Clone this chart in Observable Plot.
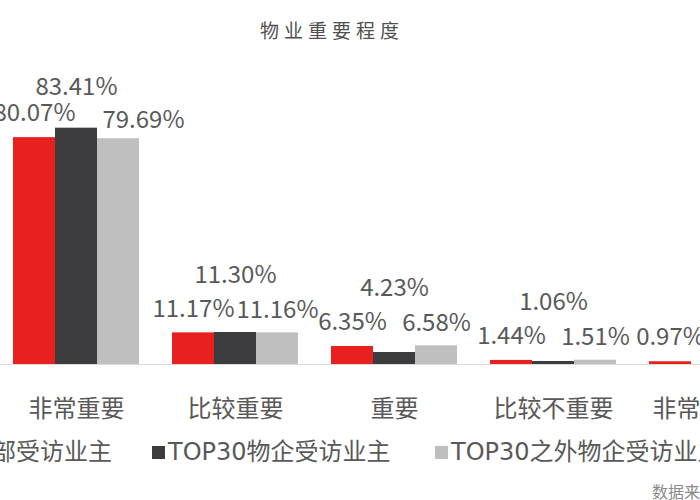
<!DOCTYPE html>
<html>
<head>
<meta charset="utf-8">
<script src="https://cdn.jsdelivr.net/npm/d3@7"></script>
<script src="https://cdn.jsdelivr.net/npm/@observablehq/plot@0.6"></script>
<style>
  html, body { margin: 0; padding: 0; background: #fff; }
  body { width: 700px; height: 500px; overflow: hidden; position: relative;
         font-family: 'Noto Sans CJK SC', 'Noto Sans', sans-serif; }
  #chart { position: absolute; left: -40px; top: 0; width: 870px; height: 500px; }
  #chart svg { max-width: none !important; width: 870px; height: 500px; }
  #title { position: absolute; top: 17px; left: 0; width: 664px; text-align: center;
           font-size: 19px; letter-spacing: 5px; color: #505050; line-height: 26px; }
  #legend { position: absolute; top: 439px; left: 0; width: 700px; height: 28px;
            font-family: 'DejaVu Sans', 'Noto Sans CJK SC', sans-serif;
            font-size: 24px; line-height: 26px; color: #595959; white-space: nowrap; }
  #legend .item { position: absolute; top: 0; display: flex; align-items: center; }
  #legend .sw { width: 13px; height: 13px; margin-right: 3px; display: inline-block; }
  #source { position: absolute; left: 652px; top: 479px; font-size: 16px; color: #8a8a8a;
            white-space: nowrap; }
</style>
</head>
<body>
<div id="title">物业重要程度</div>
<div id="chart"></div>
<div id="legend"></div>
<div id="source">数据来源：</div>
<script>
const categories = ["非常重要", "比较重要", "重要", "比较不重要", "非常不重要"];
const seriesNames = ["全部受访业主", "TOP30物企受访业主", "TOP30之外物企受访业主"];
const allOwners = [80.07, 11.17, 6.35, 1.44, 0.97];
const top30Owners = [83.41, 11.30, 4.23, 1.06, null];
const otherOwners = [79.69, 11.16, 6.58, 1.51, null];
const colors = ["#e8211f", "#3c3b3e", "#bfbfbf"];

const seriesValues = [allOwners, top30Owners, otherOwners];
const data = [];
categories.forEach((c, i) => {
  seriesNames.forEach((s, j) => {
    const v = seriesValues[j][i];
    if (v != null) data.push({category: c, series: s, value: v});
  });
});
const redOf = new Map(categories.map((c, i) => [c, allOwners[i]]));
const fmt = d => d.value.toFixed(2) + "%";
const textOpts = {fx: "category", x: "series", text: fmt, fill: "#595959", fontSize: 24};
const redRows = data.filter(d => d.series === seriesNames[0]);
const darkRows = data.filter(d => d.series === seriesNames[1]);
const grayRows = data.filter(d => d.series === seriesNames[2]);

const chart = Plot.plot({
  width: 870,
  height: 500,
  marginLeft: 52,
  marginRight: 55,
  marginTop: 109,
  marginBottom: 136,
  style: {fontFamily: "'Noto Sans CJK SC', 'Noto Sans', sans-serif", color: "#595959", background: "transparent"},
  fx: {domain: categories, paddingInner: 0.21, paddingOuter: 0, label: null},
  x: {domain: seriesNames, padding: 0, axis: null},
  y: {domain: [0, 90], axis: null},
  color: {domain: seriesNames, range: colors},
  marks: [
    Plot.ruleY([0], {stroke: "#dcdcdc", insetLeft: -17, insetRight: -17}),
    Plot.barY(data, {fx: "category", x: "series", y: "value", fill: "series"}),
    Plot.text(redRows, {...textOpts, y: "value", dy: -24}),
    // grey labels: the tall first group's label is nudged right to clear the red one
    Plot.text(grayRows.filter(d => d.category !== categories[0]), {...textOpts, y: "value", dy: -23}),
    Plot.text(grayRows.filter(d => d.category === categories[0]), {...textOpts, y: "value", dx: 25, dy: -18}),
    Plot.text(darkRows.filter(d => d.category !== categories[0]), {...textOpts, y: d => redOf.get(d.category), dy: -58}),
    Plot.text(darkRows.filter(d => d.category === categories[0]), {...textOpts, y: "value", dy: -41}),
    Plot.axisFx({anchor: "bottom", tickSize: 0, tickPadding: 35, fontSize: 24, label: null})
  ]
});
document.getElementById("chart").appendChild(chart);

const legendLeft = [-48, 152, 435];
const legend = document.getElementById("legend");
seriesNames.forEach((s, i) => {
  const item = document.createElement("div");
  item.className = "item";
  item.style.left = legendLeft[i] + "px";
  const sw = document.createElement("span");
  sw.className = "sw";
  sw.style.background = colors[i];
  const t = document.createElement("span");
  t.textContent = s;
  item.appendChild(sw);
  item.appendChild(t);
  legend.appendChild(item);
});
</script>
</body>
</html>
